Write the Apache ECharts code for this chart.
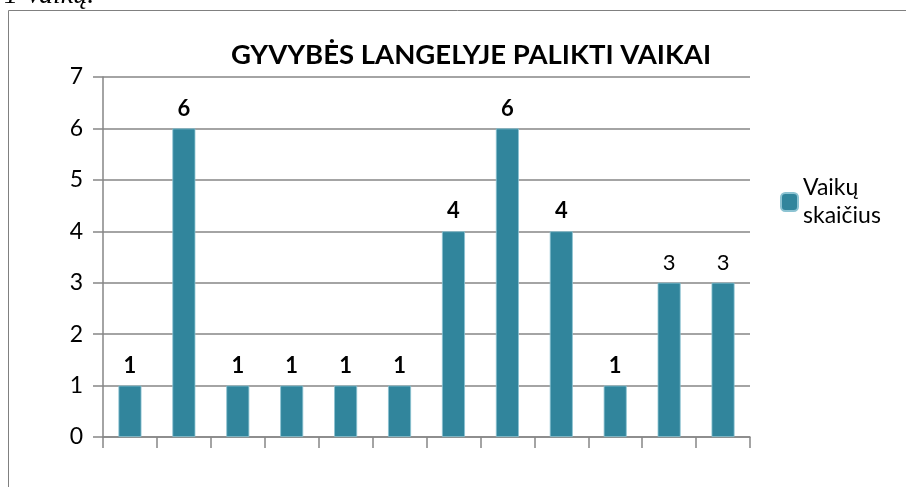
<!DOCTYPE html>
<html>
<head>
<meta charset="utf-8">
<script src="https://cdn.jsdelivr.net/npm/echarts@6/dist/echarts.min.js"></script>
<style>
  html, body { margin: 0; padding: 0; background: #fff; }
  #chart { width: 906px; height: 487px; }
</style>
</head>
<body>
<div id="chart"></div>
<script>
// duomenys
const categories = ['1', '2', '3', '4', '5', '6', '7', '8', '9', '10', '11', '12'];
const childCounts = [1, 6, 1, 1, 1, 1, 4, 6, 4, 1, 3, 3];
const boldLabels = [true, true, true, true, true, true, true, true, true, true, false, false];
const yTicks = [0, 1, 2, 3, 4, 5, 6, 7];

const font = 'Lato, "Open Sans", sans-serif';
const myChart = echarts.init(document.getElementById('chart'));

const option = {
    animation: false,
    title: {
        text: 'GYVYBĖS LANGELYJE PALIKTI VAIKAI',
        left: 466,
        top: 36,
        textAlign: 'center',
        textStyle: { fontFamily: font, fontSize: 27.5, fontWeight: 'bold', color: '#000' }
    },
    legend: {
        data: ['Vaikų\nskaičius'],
        left: 780,
        top: 174,
        padding: 0,
        orient: 'vertical',
        itemWidth: 17,
        itemHeight: 18,
        itemGap: 6,
        textStyle: { fontFamily: font, fontSize: 23, color: '#000', lineHeight: 28 }
    },
    graphic: [
        {
            type: 'rect',
            shape: { x: 8.5, y: 10.5, width: 920, height: 500 },
            style: { fill: 'none', stroke: '#808080', lineWidth: 1 }
        },
        {
            type: 'text',
            left: 4,
            top: -18,
            style: { text: '1 Vaikų.', font: 'italic 28px "Liberation Serif", serif', fill: '#000' }
        }
    ],
    grid: { left: 103, top: 77, width: 647, height: 360 },
    xAxis: {
        type: 'category',
        data: categories,
        axisLine: { lineStyle: { color: '#868686', width: 1.5 } },
        axisTick: { show: true, length: 11, lineStyle: { color: '#868686', width: 1.5 } },
        axisLabel: { show: false }
    },
    yAxis: {
        type: 'value',
        min: yTicks[0],
        max: yTicks[yTicks.length - 1],
        interval: 1,
        axisLine: { show: true, lineStyle: { color: '#868686', width: 1.5 } },
        axisTick: { show: true, length: 10, lineStyle: { color: '#868686', width: 1.5 } },
        axisLabel: { fontFamily: font, fontSize: 23, color: '#000', margin: 20 },
        splitLine: { lineStyle: { color: '#868686', width: 1.5 } }
    },
    series: [{
        name: 'Vaikų\nskaičius',
        type: 'bar',
        barWidth: 23,
        itemStyle: { color: '#31859C', borderColor: '#8cc3d2', borderWidth: 0.8 },
        data: childCounts.map((v, i) => ({
            value: v,
            label: { fontWeight: boldLabels[i] ? 'bold' : 'normal' }
        })),
        label: {
            show: true,
            position: 'top',
            distance: 9,
            fontFamily: font,
            fontSize: 22,
            color: '#000'
        }
    }]
};
myChart.setOption(option);
</script>
</body>
</html>
